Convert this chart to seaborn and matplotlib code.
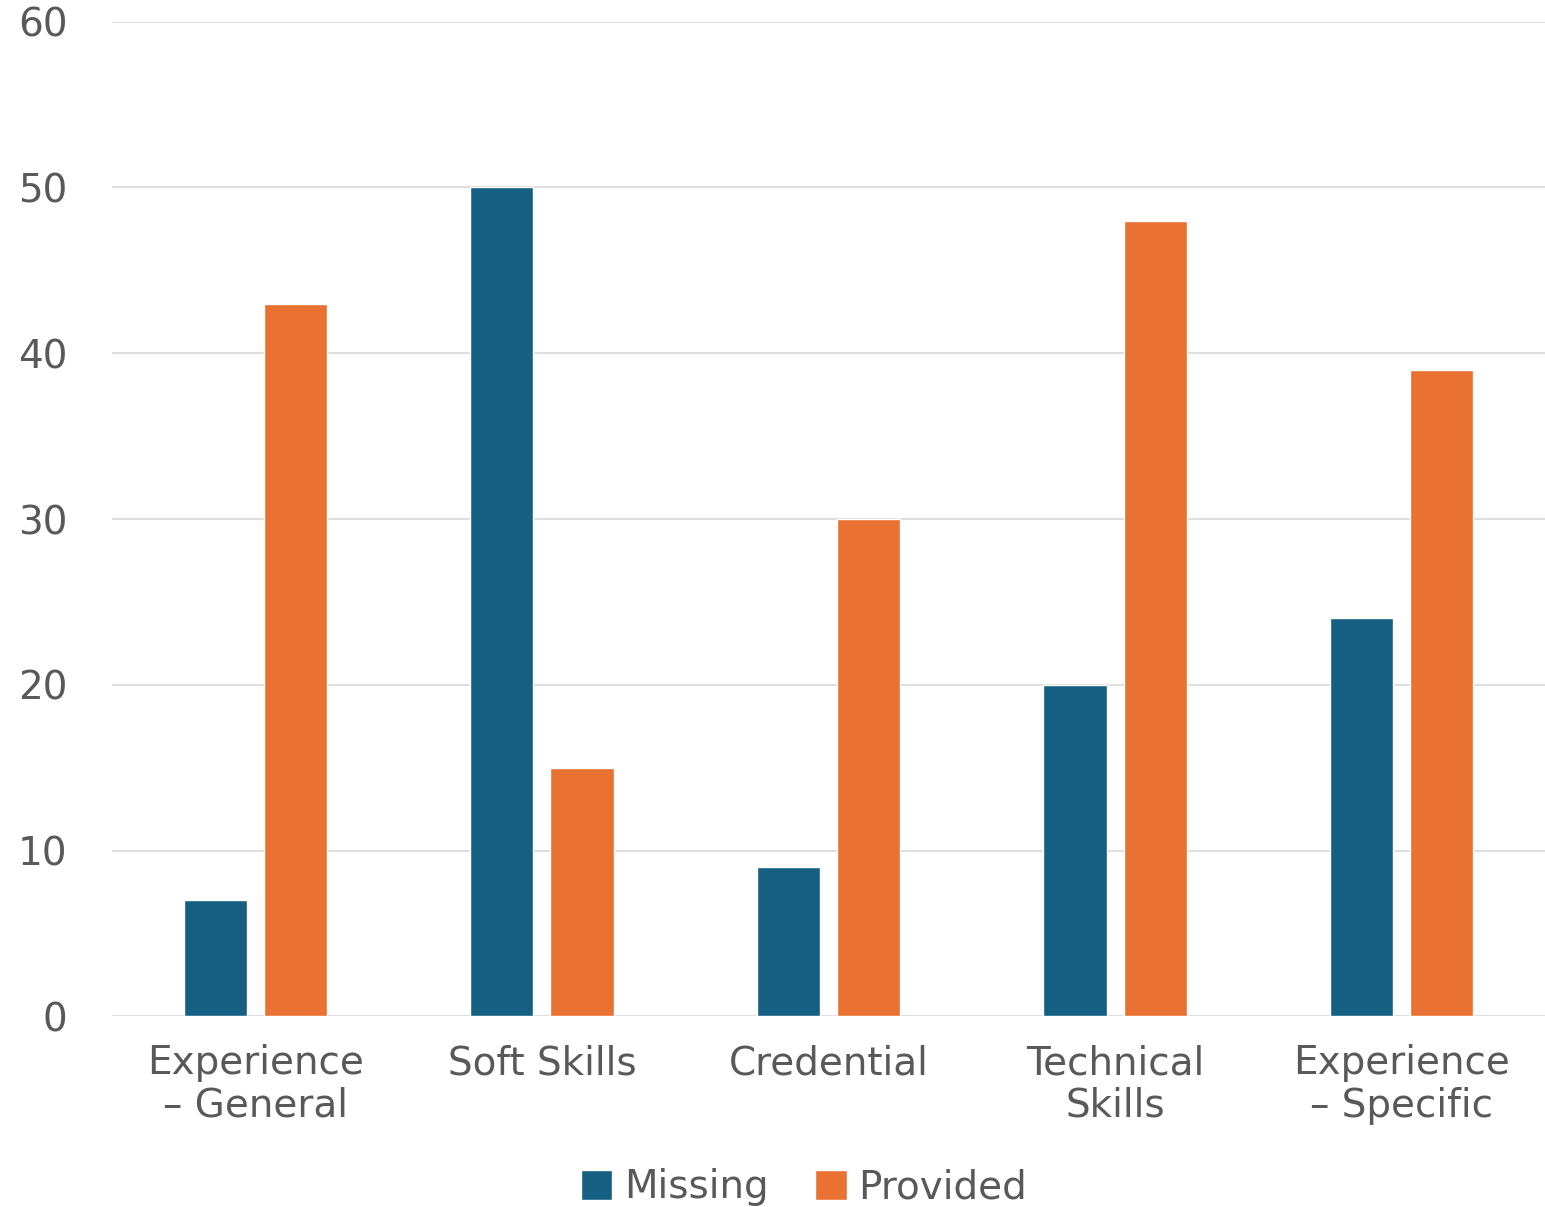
import matplotlib
matplotlib.use("Agg")
import matplotlib.pyplot as plt
import seaborn as sns
import pandas as pd

categories = ["Experience\n\u2013 General", "Soft Skills", "Credential", "Technical\nSkills", "Experience\n\u2013 Specific"]
missing = [7, 50, 9, 20, 24]
provided = [43, 15, 30, 48, 39]
series_names = ["Missing", "Provided"]
yticks = [0, 10, 20, 30, 40, 50, 60]

df = pd.DataFrame({
    "category": categories * 2,
    "value": missing + provided,
    "series": [series_names[0]] * len(categories) + [series_names[1]] * len(categories),
})

sns.set_theme(style="white")
plt.rcParams["font.family"] = ["DejaVu Sans"]
text_color = "#595959"
fs = 28

fig = plt.figure(figsize=(15.45, 12.07), dpi=100)
ax = fig.add_axes([0.0725, 0.158, 0.9275, 0.824])

sns.barplot(data=df, x="category", y="value", hue="series",
            palette=["#156082", "#E97132"], width=0.56, gap=0.214,
            ax=ax, legend=True, saturation=1)

ax.set_ylim(0, 60)
ax.set_xlim(-0.5, 4.5)
ax.set_yticks(yticks)
ax.set_xlabel("")
ax.set_ylabel("")
for s in ax.spines.values():
    s.set_visible(False)
ax.yaxis.grid(True, color="#dedede", linewidth=1.5)
ax.set_axisbelow(True)
ax.tick_params(axis="both", length=0, labelsize=fs, colors=text_color)
ax.tick_params(axis="y", pad=32)
ax.tick_params(axis="x", pad=20)
for lab in ax.get_xticklabels():
    lab.set_linespacing(1.15)

leg = ax.legend(loc="center", bbox_to_anchor=(0.483, -0.172), ncol=2, frameon=False,
                fontsize=fs, handlelength=0.8, handleheight=0.8, handletextpad=0.3,
                columnspacing=1.2, labelcolor=text_color)

fig.savefig("out.png", dpi=100, facecolor="white")
